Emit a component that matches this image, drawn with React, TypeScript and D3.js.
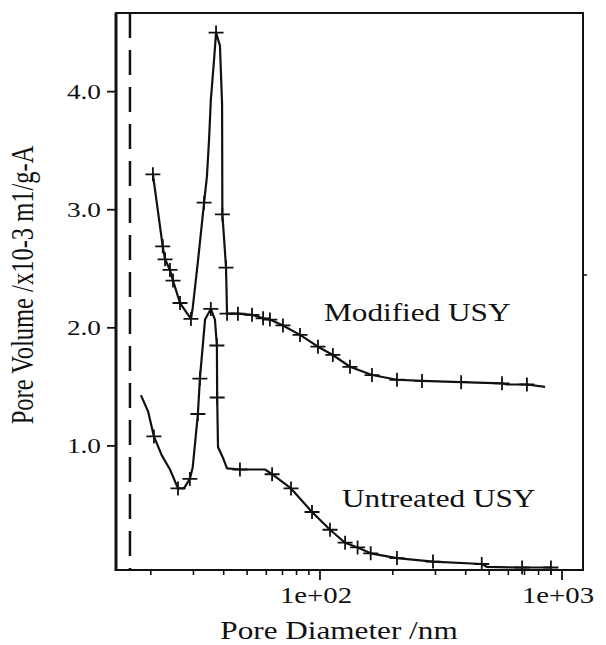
import React from "react";
import * as d3 from "d3";

// ---------- data ----------
// Modified USY: pore diameter (nm), pore volume (x10-3 ml/g-A), marker flag
const modifiedDiameter = [20.4, 22.4, 22.9, 24.0, 24.7, 26.4, 29.3, 29.8, 31.3, 33.2, 34.1, 34.8, 35.4, 36.5, 37.2, 38.6, 39.4, 39.5, 40.2, 40.9, 41.3, 45.8, 52.4, 58.2, 62.1, 70.3, 82.7, 98.1, 113, 133, 164, 208, 264, 383, 565, 593, 716, 851];
const modifiedVolume = [3.30, 2.69, 2.58, 2.49, 2.40, 2.21, 2.075, 2.17, 2.56, 3.06, 3.28, 3.59, 3.93, 4.27, 4.50, 4.39, 3.89, 2.96, 2.74, 2.51, 2.12, 2.12, 2.11, 2.08, 2.07, 2.02, 1.94, 1.84, 1.77, 1.67, 1.60, 1.56, 1.55, 1.54, 1.53, 1.52, 1.52, 1.50];
const modifiedMarker = [1, 1, 1, 1, 1, 1, 1, 0, 0, 1, 0, 0, 0, 0, 1, 0, 0, 1, 0, 1, 1, 1, 1, 1, 1, 1, 1, 1, 1, 1, 1, 1, 1, 1, 1, 0, 1, 0];

// Untreated USY
const untreatedDiameter = [18.2, 19.5, 20.6, 22.2, 24.0, 25.9, 27.4, 29.0, 29.8, 31.3, 31.9, 33.5, 35.4, 36.8, 37.5, 37.6, 37.9, 39.7, 41.3, 46.7, 59.3, 63.4, 75.9, 92.7, 110, 127, 143, 162, 208, 293, 466, 490, 684, 900];
const untreatedVolume = [1.43, 1.29, 1.08, 0.92, 0.80, 0.64, 0.64, 0.72, 0.82, 1.27, 1.57, 2.07, 2.16, 2.07, 1.85, 1.41, 0.99, 0.90, 0.81, 0.80, 0.80, 0.76, 0.64, 0.44, 0.29, 0.18, 0.14, 0.09, 0.05, 0.02, 0.00, -0.025, -0.03, -0.03];
const untreatedMarker = [0, 0, 1, 0, 0, 1, 0, 1, 0, 1, 1, 0, 1, 0, 1, 1, 0, 0, 0, 1, 0, 1, 1, 1, 1, 1, 1, 1, 1, 1, 1, 0, 1, 1];

// reference dashed line (nm)
const dashedDiameter = 16.4;

// axis ticks
const yTickValues = [1.0, 2.0, 3.0, 4.0];
const xMajorTicks = [100, 1000];
const xMajorLabels = ["1e+02", "1e+03"];
const xMinorTicks = [20, 30, 40, 50, 60, 70, 80, 90, 200, 300, 400, 500, 600, 700, 800, 900];

const seriesLabels = ["Modified USY", "Untreated USY"];
const xTitle = "Pore Diameter /nm";
const yTitle = "Pore Volume /x10-3 m1/g-A";

// ---------- layout ----------
const W = 606;
const H = 645;
const L = 116, R = 583, T = 13, B = 570;
const FONT = '"Liberation Serif", "Times New Roman", serif';
const INK = "#111";

export default function App() {
  const x = d3.scaleLog().domain([14.36, 1221]).range([L, R]);
  const y = d3.scaleLinear().domain([-0.051, 4.666]).range([B, T]);

  const line = d3
    .line<[number, number]>()
    .x((d) => x(d[0]))
    .y((d) => y(d[1]));

  const modPts: [number, number][] = modifiedDiameter.map((d, i) => [d, modifiedVolume[i]]);
  const untPts: [number, number][] = untreatedDiameter.map((d, i) => [d, untreatedVolume[i]]);

  const plus = (px: number, py: number, key: string) => (
    <path
      key={key}
      d={`M${px - 7.5},${py}H${px + 7.5}M${px},${py - 7}V${py + 7}`}
      stroke={INK}
      strokeWidth={1.8}
      fill="none"
    />
  );

  return (
    <svg
      width={W}
      height={H}
      style={{ position: "absolute", left: 0, top: 0, background: "#fff" }}
      fontFamily={FONT}
    >
      <rect x={0} y={0} width={W} height={H} fill="#fff" />

      {/* dashed reference line */}
      <line
        x1={x(dashedDiameter)}
        x2={x(dashedDiameter)}
        y1={T}
        y2={B}
        stroke={INK}
        strokeWidth={2.5}
        strokeDasharray="25 12"
      />

      {/* curves */}
      <path d={line(modPts) || ""} fill="none" stroke={INK} strokeWidth={2.2} strokeLinejoin="round" />
      <path d={line(untPts) || ""} fill="none" stroke={INK} strokeWidth={2.2} strokeLinejoin="round" />

      {modPts.map((p, i) => (modifiedMarker[i] ? plus(x(p[0]), y(p[1]), "m" + i) : null))}
      {untPts.map((p, i) => (untreatedMarker[i] ? plus(x(p[0]), y(p[1]), "u" + i) : null))}

      {/* frame */}
      <rect x={L} y={T} width={R - L} height={B - T} fill="none" stroke={INK} strokeWidth={2} />
      <line x1={L} x2={L} y1={T} y2={B + 1} stroke={INK} strokeWidth={3} />
      <line x1={R} x2={R + 4} y1={275} y2={275} stroke={INK} strokeWidth={1.5} />

      {/* y ticks */}
      {yTickValues.map((v) => (
        <g key={"yt" + v}>
          <line x1={L - 9} x2={L} y1={y(v)} y2={y(v)} stroke={INK} strokeWidth={1.8} />
          <text
            transform={`translate(101,${y(v)}) scale(1.3,1)`}
            textAnchor="end"
            dy="0.35em"
            fontSize={21}
            fill={INK}
          >
            {v.toFixed(1)}
          </text>
        </g>
      ))}

      {/* x ticks */}
      {xMinorTicks.map((v) => (
        <line key={"xm" + v} x1={x(v)} x2={x(v)} y1={B} y2={B + 5} stroke={INK} strokeWidth={1.6} />
      ))}
      {xMajorTicks.map((v, i) => (
        <g key={"xM" + v}>
          <line x1={x(v)} x2={x(v)} y1={B} y2={B + 10} stroke={INK} strokeWidth={1.8} />
          <text
            transform={`translate(${x(v) - 4},603) scale(1.2,1)`}
            textAnchor="middle"
            fontSize={24}
            fill={INK}
          >
            {xMajorLabels[i]}
          </text>
        </g>
      ))}

      {/* series labels */}
      <text transform="translate(324,321) scale(1.25,1)" fontSize={25} fill={INK}>
        {seriesLabels[0]}
      </text>
      <text transform="translate(342,507) scale(1.25,1)" fontSize={25} fill={INK}>
        {seriesLabels[1]}
      </text>

      {/* axis titles */}
      <text transform="translate(339,639) scale(1.2,1)" textAnchor="middle" fontSize={26} fill={INK}>
        {xTitle}
      </text>
      <text
        transform="translate(33,285) scale(1.3,1) rotate(-90)"
        textAnchor="middle"
        fontSize={24.5}
        fill={INK}
      >
        {yTitle}
      </text>
    </svg>
  );
}
